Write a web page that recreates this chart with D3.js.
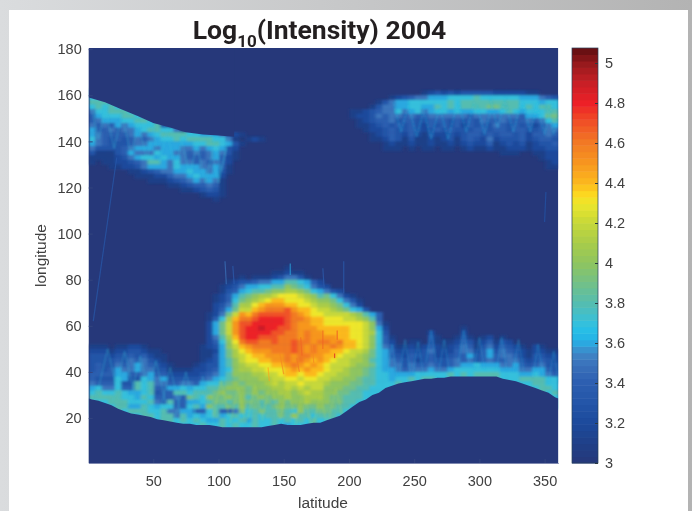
<!DOCTYPE html>
<html>
<head>
<meta charset="utf-8">
<script src="https://cdn.jsdelivr.net/npm/d3@7"></script>
<style>
  html, body { margin: 0; padding: 0; }
  body { width: 692px; height: 511px; overflow: hidden; background: linear-gradient(90deg, #dadcde, #b3b3b3); }
  svg { display: block; }
  text { font-family: "Liberation Sans", sans-serif; fill: #404040; }
</style>
</head>
<body>
<svg id="chart" width="692" height="511"></svg>
<script>
// Levels are read off the picture, one char per 5 deg of latitude axis, 2 deg of longitude axis
// 0-9 = 3.0-3.9, a-j = 4.0-4.9
const levelChars = "0123456789abcdefghij";
const z = "000000000000";

// top longitude of each row in the two bands
const upperLat = d3.range(162, 114, -2);
const lowerLat = d3.range(90, 14, -2);

const upperRows = [
  `${z} ${z} ${z} ${z} 000123232333 332222211000`,
  `777500000000 ${z} ${z} 000000000012 345566677778 777777666543`,
  `888765100000 ${z} ${z} 000000001356 677777787888 888888777677`,
  `787877531000 ${z} ${z} 000000013556 677668787888 899888787887`,
  `577888762000 ${z} ${z} 000011234557 567567767667 766787677788`,
  `467778876200 ${z} ${z} 000012235455 454455555545 555555466799`,
  `456667788751 ${z} ${z} 000001234453 443344434343 544544454578`,
  `545465677783 100000000000 ${z} 000001123434 343243434243 435434342456`,
  `644545567887 751000000000 ${z} 000000122343 343234343334 434434433455`,
  `654444565678 888776665321 ${z} 000000012343 242132232344 343443424454`,
  `754343454567 787888877510 121000000000 000000011243 131121231343 252333423443`,
  `654333455666 666677887631 ${z} 000000000121 121121121232 241232312334`,
  `533334566656 665565676320 ${z} 000000000111 010110110121 121122212233`,
  `311134655576 655454565310 ${z} ${z} ${z} 000111001122`,
  `111123567767 665444564210 ${z} ${z} ${z} 000000000122`,
  `101122345886 575545454200 ${z} ${z} ${z} 000000000012`,
  `000112235666 576665564100 ${z} ${z} ${z} 000000000011`,
  `000000112345 566766563100`,
  `000000011122 455676662000`,
  `000000000111 234565651000`,
  `${z} 112344541000`,
  `${z} 001123431000`,
  `${z} 000001221000`,
  `${z} 000000010000`
];

const lowerRows = [
  ``,
  ``,
  `${z} ${z} 000000100000`,
  `${z} ${z} 000011211000`,
  `${z} 000000000001 011123553100`,
  `${z} 000000000123 345566887642`,
  `${z} 000000001235 667788a98753 200000000000`,
  `${z} 000000001346 7889aabba976 532000000000`,
  `${z} 000000012468 9abbcdddcba8 975210000000`,
  `${z} 000000012479 abcdeedddcba a97531000000`,
  `${z} 00000002358b bdefffeeddcb ba9752000000`,
  `${z} 00000002469c cefggghfeedc cba976300000`,
  `${z} 0000001259cf eghhhhhgfedd ccccba864000`,
  `${z} 000000147beg ghiiiihggfee dddccba84000`,
  `${z} 000000269cfh hiiiiihgffee ddddddca5100`,
  `${z} 000000269cfh iijiihhgfffe eeeeddca6200 000000000100 ${z}`,
  `${z} 000000269cfh iiiihhggfgff eeeeddcb7300 000020000200 ${z}`,
  `${z} 000000258beh iihhhgggfgff ffeeddca7410 000031001310 120100000000`,
  `${z} 000000247adg hhgghgghggfg gfgeedca7420 011031112431 241320000000`,
  `111011221000 000001236ace fgggggghgfgf fgfeedca7531 121242123541 352432102100`,
  `222122332110 0000011269bd efffggghgfgf feedccb97642 232352224552 463543212211`,
  `333233434211 0000011369bc deefffgfggff eedccba97643 243342234463 464554213322`,
  `333343545321 0000012368ac ddeeffgfgfef edccbba87654 342343345453 454455323432`,
  `343354565432 1000123368ab ccddeefgfefe dcccbaa97655 354454345667 666556434533`,
  `343465565533 1111223467ab bccdddefefee dccbaa987665 455565567777 777666556643`,
  `444466445644 2222234568aa abbccdeedeed ccbbaa987766 667777787878 888777667654`,
  `433376337656 33333456789a aabbccddcddc cbbaa9887767 787880000000 000777888877`,
  `544473387855 4455467789a9 aaabcbccdccc baaa99887778 770000000000 000000778877`,
  `675574487844 667677889aaa 9aaabbcbcbcc aaa998877700 ${z} 000000007887`,
  `787787667834 48878889a99a 9a9aabbabcbb aa9988777000 ${z} 000000000078`,
  `888887768744 454987a99a9a 89a9aabaabbb a99888700000 ${z} 000000000007`,
  `777888777854 84466789989a 99898a9aabaa a99887000000`,
  `007788668767 744786a8898a 89889a99a99a 998870000000`,
  `000007888778 556644784459 78988987a889 988700000000`,
  `000000778878 858676786787 7878898a8878 887000000000`,
  `000000000078 878787668778 687787878787 700000000000`,
  `${z} 007778778787 787787677700`,
  ``
];

// sharp lower edge of the bottom band and upper edge of the top left band
const bottomEdgeLon = [0.5, 3, 8, 13, 18, 23, 28, 33, 38, 43, 48, 53, 58, 63, 68, 73, 78, 83, 88, 93, 98, 103, 108, 113, 118, 123, 128, 133, 138, 143, 148, 153, 158, 163, 168, 173, 178, 183, 188, 193, 198, 203, 208, 213, 218, 223, 228, 233, 238, 243, 248, 253, 258, 263, 268, 273, 278, 283, 288, 293, 298, 303, 308, 313, 318, 323, 328, 333, 338, 343, 348, 353, 358, 360.5];
const bottomEdgeLat = [28.5, 28, 27.5, 26.5, 25.5, 24, 23, 22, 21.5, 21, 20.5, 19.5, 19, 18.5, 18, 17.5, 17.5, 17, 17, 17, 16.5, 16, 16, 16, 16, 16, 16, 16, 16.5, 17, 17.5, 17, 17, 17, 17.5, 18, 18, 19, 20, 21, 23, 25, 27, 28, 30, 31, 33, 34, 35, 35.5, 36, 36.5, 37, 37, 37.5, 37.5, 38, 38, 38, 38, 38, 38, 38, 38, 37, 36.5, 36, 35, 34, 33, 32, 31, 29, 28.5];
const topEdgeLon = [0.5, 13, 25, 38, 50, 63, 75, 88, 100, 112];
const topEdgeLat = [159, 157, 154, 151, 148, 146, 144, 143, 142.5, 142];

// crossing hatch of each band: apex of each V, then how far its two arms run
const hatchApexLon = [
  [240, 252, 263, 276, 290, 304, 314, 326, 339, 350, 357],
  [8, 20, 33, 45, 55, 67, 78, 90, 100, 102],
  [15, 28, 40, 52, 63, 75, 88],
  [102, 115, 128, 140, 153, 165, 178, 190],
  [233, 243, 253, 263, 273, 288, 300, 317, 330, 345, 357]
];
const hatchApexLat = [
  [144, 142, 141, 141, 144, 143, 146, 144, 144, 143, 143],
  [141, 137, 134, 132, 131, 128, 125, 122, 122, 127],
  [50, 49, 47, 45, 42, 40, 38],
  [36, 33, 34, 36, 34, 32, 30, 33],
  [52, 54, 53, 58, 54, 58, 55, 55, 54, 52, 49]
];
const hatchArmLon = [6, 6, 9, 6, 4];
const hatchArmLat = [13, 15, -22, -15, -14];
const hatchVal = [3.65, 3.7, 3.7, 4.15, 3.62];

// thin streaks that are narrower than a grid cell
const streakLon0 = [22, 351, 105, 111, 180, 196, 155, 180, 191, 189, 163, 147, 160, 172, 138];
const streakLat0 = [133, 118, 88, 86, 85, 88, 87, 58, 58, 48, 55, 48, 46, 52, 42];
const streakLon1 = [4, 350, 106, 112, 181, 196, 155, 180, 191, 189, 164, 150, 162, 173, 139];
const streakLat1 = [62, 105, 78, 78, 76, 74, 82, 50, 54, 46, 47, 39, 40, 44, 36];
const streakVal = [3.35, 3.3, 3.5, 3.4, 3.4, 3.4, 3.6, 4.65, 4.7, 4.85, 4.65, 4.55, 4.6, 4.55, 4.45];

const colorValues = [3, 3.1, 3.2, 3.3, 3.4, 3.5, 3.55, 3.6, 3.65, 3.7, 3.8, 3.9, 4, 4.1, 4.2, 4.3, 4.35, 4.4, 4.5, 4.6, 4.7, 4.8, 4.9, 5, 5.075];
const colorRange = ["#26387a", "#1f4088", "#1c4a9c", "#2355a8", "#2c5eb0", "#3b74bc", "#3f86c6", "#2ba8e0", "#22bdea", "#35c0dc", "#55bdb0", "#72c088", "#8ec560", "#a8cc4a", "#c6d83a", "#eee72a", "#fdd51f", "#fcb91e", "#f7961f", "#f27a24", "#f05226", "#ed2027", "#c81f26", "#951a1c", "#5e0d10"];

const xTicks = [50, 100, 150, 200, 250, 300, 350];
const yTicks = [20, 40, 60, 80, 100, 120, 140, 160, 180];
const barTicks = [3, 3.2, 3.4, 3.6, 3.8, 4, 4.2, 4.4, 4.6, 4.8, 5];

const svg = d3.select("#chart");
const plot = { left: 88.7, right: 558.3, top: 48, bottom: 463 };
const bar = { left: 572, right: 598 };

const xScale = d3.scaleLinear().domain([0.5, 360.5]).range([plot.left, plot.right]);
const yScale = d3.scaleLinear().domain([0.5, 180.5]).range([plot.bottom, plot.top]);
const barScale = d3.scaleLinear().domain([3, 5.075]).range([plot.bottom, plot.top]);
const color = d3.scaleLinear().domain(colorValues).range(colorRange).clamp(true);

// white card
svg.append("rect").attr("x", 9).attr("y", 10).attr("width", 679).attr("height", 501).attr("fill", "#fff");

const defs = svg.append("defs");
defs.append("clipPath").attr("id", "plotClip")
  .append("rect")
  .attr("x", plot.left).attr("y", plot.top)
  .attr("width", plot.right - plot.left).attr("height", plot.bottom - plot.top);
defs.append("filter").attr("id", "soften")
  .attr("filterUnits", "userSpaceOnUse")
  .attr("x", 60).attr("y", 20).attr("width", 530).attr("height", 470)
  .append("feGaussianBlur").attr("stdDeviation", "1.8 1.2");
defs.append("filter").attr("id", "softenLines")
  .attr("filterUnits", "userSpaceOnUse")
  .attr("x", 60).attr("y", 20).attr("width", 530).attr("height", 470)
  .append("feGaussianBlur").attr("stdDeviation", "0.9");

// Bottom cells of the lower band and top cells of the left band run on under the edge masks
function toCells(rows, lats, extendDown, extendUp) {
  const grid = rows.map(r => r.replace(/ /g, "").padEnd(72, "0"));
  const cells = [];
  grid.forEach((row, r) => {
    row.split("").forEach((ch, c) => {
      const level = levelChars.indexOf(ch);
      if (level <= 0) return;
      const below = r + 1 < grid.length ? grid[r + 1][c] : "0";
      const above = r > 0 ? grid[r - 1][c] : "0";
      cells.push({
        lon: 0.5 + c * 5,
        top: lats[r] + (extendUp && c < 21 && above === "0" ? 3 : 0),
        bottom: lats[r] - 2 - (extendDown && lats[r] < 50 && below === "0" ? 4 : 0),
        value: 3 + level * 0.1
      });
    });
  });
  return cells;
}
const cells = toCells(upperRows, upperLat, false, true).concat(toCells(lowerRows, lowerLat, true, false));

const plotArea = svg.append("g").attr("clip-path", "url(#plotClip)");
plotArea.append("rect")
  .attr("x", plot.left).attr("y", plot.top)
  .attr("width", plot.right - plot.left).attr("height", plot.bottom - plot.top)
  .attr("fill", color(3));

plotArea.append("g")
  .attr("filter", "url(#soften)")
  .selectAll("rect")
  .data(cells)
  .enter()
  .append("rect")
  .attr("x", d => xScale(d.lon))
  .attr("y", d => yScale(d.top))
  .attr("width", d => xScale(d.lon + 5) - xScale(d.lon) + 0.5)
  .attr("height", d => yScale(d.bottom) - yScale(d.top) + 0.5)
  .attr("fill", d => color(d.value));

// hatch
const hatch = [];
hatchApexLon.forEach((lons, g) => {
  lons.forEach((lon, i) => {
    [-1, 1].forEach(side => {
      hatch.push({
        lon0: lon,
        lat0: hatchApexLat[g][i],
        lon1: lon + side * hatchArmLon[g],
        lat1: hatchApexLat[g][i] + hatchArmLat[g],
        value: hatchVal[g]
      });
    });
  });
});
plotArea.append("g")
  .attr("filter", "url(#softenLines)")
  .selectAll("line")
  .data(hatch)
  .enter()
  .append("line")
  .attr("x1", d => xScale(d.lon0))
  .attr("y1", d => yScale(d.lat0))
  .attr("x2", d => xScale(d.lon1))
  .attr("y2", d => yScale(d.lat1))
  .attr("stroke", d => color(d.value))
  .attr("stroke-width", 1.3)
  .attr("opacity", 0.35);

// edge masks
plotArea.append("path")
  .datum(bottomEdgeLon)
  .attr("fill", color(3))
  .attr("d", d3.area()
    .x(d => xScale(d))
    .y0(plot.bottom)
    .y1((d, i) => yScale(bottomEdgeLat[i])));
plotArea.append("path")
  .datum(topEdgeLon)
  .attr("fill", color(3))
  .attr("d", d3.area()
    .x(d => xScale(d))
    .y0(plot.top)
    .y1((d, i) => yScale(topEdgeLat[i])));

plotArea.append("g")
  .selectAll("line")
  .data(streakVal)
  .enter()
  .append("line")
  .attr("x1", (d, i) => xScale(streakLon0[i]))
  .attr("y1", (d, i) => yScale(streakLat0[i]))
  .attr("x2", (d, i) => xScale(streakLon1[i]))
  .attr("y2", (d, i) => yScale(streakLat1[i]))
  .attr("stroke", d => color(d))
  .attr("stroke-width", 1.2)
  .attr("opacity", 0.7);

// axes
const xAxis = svg.append("g")
  .attr("transform", `translate(0, ${plot.bottom})`)
  .call(d3.axisBottom(xScale).tickValues(xTicks).tickSizeInner(-4).tickSizeOuter(0).tickPadding(13));
const yAxis = svg.append("g")
  .attr("transform", `translate(${plot.left}, 0)`)
  .call(d3.axisLeft(yScale).tickValues(yTicks).tickSizeInner(-4).tickSizeOuter(0).tickPadding(7));
[xAxis, yAxis].forEach(a => {
  a.select(".domain").attr("stroke", "#26387a").attr("stroke-width", 0.6);
  a.selectAll(".tick line").attr("stroke", "#33457f");
  a.selectAll("text").attr("font-size", 14.5).attr("fill", "#404040")
    .style("font-family", '"Liberation Sans", sans-serif');
});

// colorbar
const barSteps = d3.range(3, 5.075, 2.075 / 64);
svg.append("g")
  .selectAll("rect")
  .data(barSteps)
  .enter()
  .append("rect")
  .attr("x", bar.left)
  .attr("width", bar.right - bar.left)
  .attr("y", d => barScale(d + 2.075 / 64))
  .attr("height", d => barScale(d) - barScale(d + 2.075 / 64) + 0.5)
  .attr("fill", d => color(d + 1.0375 / 64));
svg.append("rect")
  .attr("x", bar.left).attr("y", plot.top)
  .attr("width", bar.right - bar.left).attr("height", plot.bottom - plot.top)
  .attr("fill", "none").attr("stroke", "#26405a").attr("stroke-width", 0.7);

const barAxis = svg.append("g")
  .attr("transform", `translate(${bar.right}, 0)`)
  .call(d3.axisRight(barScale).tickValues(barTicks).tickFormat(d3.format("")).tickSize(-3).tickPadding(7));
barAxis.select(".domain").remove();
barAxis.selectAll(".tick line").attr("stroke", "#2a3a40");
barAxis.selectAll("text").attr("font-size", 14.5).attr("fill", "#404040")
  .style("font-family", '"Liberation Sans", sans-serif');

// labels
svg.append("text")
  .attr("x", (plot.left + plot.right) / 2 - 0.5)
  .attr("y", 507.5)
  .attr("text-anchor", "middle")
  .attr("font-size", 15.5)
  .text("latitude");
svg.append("text")
  .attr("transform", `translate(46, ${(plot.top + plot.bottom) / 2}) rotate(-90)`)
  .attr("text-anchor", "middle")
  .attr("font-size", 15.5)
  .text("longitude");

const title = svg.append("text")
  .attr("x", 319.5)
  .attr("y", 39)
  .attr("text-anchor", "middle")
  .style("font-family", "Roboto, sans-serif")
  .style("font-weight", 700)
  .style("font-size", "26.5px")
  .style("fill", "#231f20");
title.append("tspan").text("Log");
title.append("tspan").attr("dy", 8).style("font-size", "17px").text("10");
title.append("tspan").attr("dy", -8).text("(Intensity) 2004");
</script>
</body>
</html>
